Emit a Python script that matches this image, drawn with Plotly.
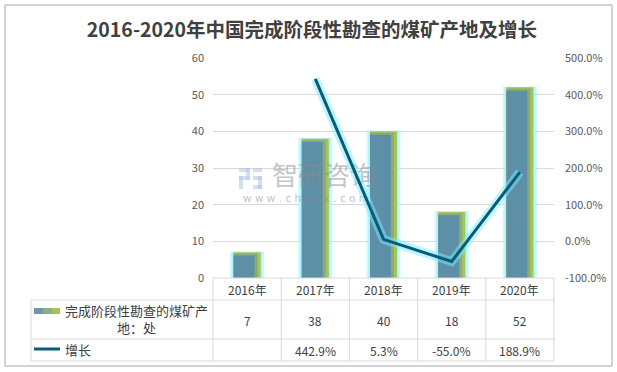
import plotly.graph_objects as go

categories = ["2016年", "2017年", "2018年", "2019年", "2020年"]
counts = [7, 38, 40, 18, 52]
growth = [None, 442.9, 5.3, -55.0, 188.9]
growth_labels = ["", "442.9%", "5.3%", "-55.0%", "188.9%"]
left_ticks = [0, 10, 20, 30, 40, 50, 60]
right_ticks = [-100, 0, 100, 200, 300, 400, 500]
right_tick_labels = ["-100.0%", "0.0%", "100.0%", "200.0%", "300.0%", "400.0%", "500.0%"]
bar_name = "完成阶段性勘查的煤矿产<br>地：处"
line_name = "增长"
title_text = "2016-2020年中国完成阶段性勘查的煤矿产地及增长"

W, H = 617, 372
L, R, T, B = 213, 554, 58, 278
FONT = "Noto Sans CJK SC"


def px(x):
    return (x - L) / (R - L)


def py(y):
    return (B - y) / (B - T)


def dx(x):  # pixel -> linear x-data (categories at 0..4)
    return -0.5 + 5 * (x - L) / (R - L)


def dy(y):  # pixel -> left y-data
    return 60 * (B - y) / (B - T)


xs = list(range(len(categories)))
fig = go.Figure()
bw = 0.396
# glow behind bars
fig.add_trace(go.Bar(x=xs, y=[v + 0.25 for v in counts], width=0.50, offset=-0.25,
                     marker=dict(color="rgba(150,240,255,0.45)", line=dict(width=0))))
fig.add_trace(go.Bar(x=xs, y=[v + 0.12 for v in counts], width=0.45, offset=-0.225,
                     marker=dict(color="rgba(160,242,255,0.75)", line=dict(width=0))))
# gradient layers
fig.add_trace(go.Bar(x=xs, y=counts, width=bw, offset=-bw / 2,
                     marker=dict(color="#a9c25a", line=dict(width=0))))
fig.add_trace(go.Bar(x=xs, y=[v - 0.4 for v in counts], width=bw - 0.045, offset=-bw / 2,
                     marker=dict(color="#88aa78", line=dict(width=0))))
fig.add_trace(go.Bar(x=xs, y=[v - 0.9 for v in counts], width=bw - 0.09, offset=-bw / 2,
                     marker=dict(color="#5d8fa6", line=dict(width=0))))
# watermark (between bars and line)
fig.add_trace(go.Scatter(x=[dx(324)], y=[dy(178)], mode="text", text=["智研咨询"],
                         textfont=dict(size=26, color="rgba(140,140,140,0.5)", family=FONT),
                         textposition="middle center"))
fig.add_trace(go.Scatter(x=[dx(306)], y=[dy(199)], mode="text", text=["w w w . c h y x x . c o m"],
                         textfont=dict(size=10.5, color="rgba(140,140,140,0.55)", family="DejaVu Sans"),
                         textposition="middle center"))
# line with glow
fig.add_trace(go.Scatter(x=xs, y=growth, yaxis="y2", mode="lines",
                         line=dict(color="rgba(120,235,255,0.5)", width=9)))
fig.add_trace(go.Scatter(x=xs, y=growth, yaxis="y2", mode="lines",
                         line=dict(color="#0a5a78", width=3)))

shapes = []
grey = "#d9d9d9"
# outer border
shapes.append(dict(type="rect", xref="paper", yref="paper", x0=px(5), x1=px(612), y0=py(5), y1=py(366),
                   line=dict(color="#a6a6a6", width=1), layer="below"))
# table lines
col_edges = [L + i * (R - L) / 5 for i in range(6)]
shapes.append(dict(type="line", xref="paper", yref="paper", x0=px(L), x1=px(R), y0=py(B), y1=py(B),
                   line=dict(color=grey, width=1)))
for y in [300, 339, 361]:
    shapes.append(dict(type="line", xref="paper", yref="paper", x0=px(31), x1=px(R), y0=py(y), y1=py(y),
                       line=dict(color=grey, width=1)))
for xe in col_edges:
    shapes.append(dict(type="line", xref="paper", yref="paper", x0=px(xe), x1=px(xe), y0=py(B), y1=py(361),
                       line=dict(color=grey, width=1)))
shapes.append(dict(type="line", xref="paper", yref="paper", x0=px(31), x1=px(31), y0=py(300), y1=py(361),
                   line=dict(color=grey, width=1)))
# legend swatches
sw = [("#6f97a2", 34, 43), ("#8aaf80", 43, 52), ("#a8c25a", 52, 60)]
for c, a, b in sw:
    shapes.append(dict(type="rect", xref="paper", yref="paper", x0=px(a), x1=px(b), y0=py(314), y1=py(308),
                       fillcolor=c, line=dict(width=0)))
shapes.append(dict(type="line", xref="paper", yref="paper", x0=px(34), x1=px(60), y0=py(349), y1=py(349),
                   line=dict(color="#0a5a78", width=3)))
# watermark logo (approx)
logo = "rgba(175,198,230,0.55)"
for (a, b, c, d) in [(239, 250, 168, 172), (246, 250, 168, 180), (239, 250, 176, 180), (239, 243, 176, 189),
                     (253, 262, 168, 172), (253, 262, 176, 180), (258, 262, 176, 189), (253, 262, 185, 189)]:
    shapes.append(dict(type="rect", xref="paper", yref="paper", x0=px(a), x1=px(b), y0=py(d), y1=py(c),
                       fillcolor=logo, line=dict(width=0)))

ann = []
txt = "#404040"


def A(**kw):
    base = dict(showarrow=False, xanchor="center", yanchor="middle", yref="paper")
    base.update(kw)
    ann.append(base)


for i, c in enumerate(categories):
    A(x=xs[i], xref="x", y=py(289), text=c, font=dict(size=12, color=txt, family=FONT))
    A(x=xs[i], xref="x", y=py(320), text=str(counts[i]), font=dict(size=12, color=txt, family=FONT))
    A(x=xs[i], xref="x", y=py(350), text=growth_labels[i], font=dict(size=12, color=txt, family=FONT))
A(x=px(136), xref="paper", y=py(319), text=bar_name, align="center",
  font=dict(size=13, color=txt, family=FONT))
A(x=px(63), xref="paper", xanchor="left", y=py(349), text=line_name,
  font=dict(size=13, color=txt, family=FONT))

fig.update_layout(
    width=W, height=H, margin=dict(l=L, r=W - R, t=T, b=H - B),
    paper_bgcolor="white", plot_bgcolor="white", showlegend=False, barmode="overlay",
    hovermode=False,
    title=dict(text="<b>" + title_text + "</b>", x=312 / W, xanchor="center", y=1 - 30 / H, yanchor="middle",
               font=dict(size=19.5, color="#404040", family=FONT)),
    xaxis=dict(type="linear", showticklabels=False, showgrid=False, zeroline=False, showline=False, ticks="",
               range=[-0.5, 4.5]),
    yaxis=dict(range=[0, 60], tickvals=left_ticks, showgrid=True, gridcolor=grey, zeroline=False,
               tickfont=dict(size=11, color="#595959", family=FONT), ticklabelstandoff=8),
    yaxis2=dict(range=[-100, 500], tickvals=right_ticks, ticktext=right_tick_labels, overlaying="y",
                side="right", showgrid=False, zeroline=False,
                tickfont=dict(size=11, color="#595959", family=FONT), ticklabelstandoff=10),
    shapes=shapes, annotations=ann,
)

fig.write_html("out.html", config={"displayModeBar": False},
               post_script="document.body.style.margin='0';document.body.style.overflow='hidden';")
